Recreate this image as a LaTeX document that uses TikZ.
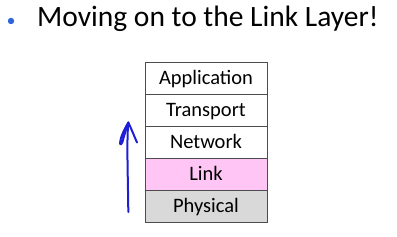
\documentclass[tikz,border=0pt]{standalone}
\usepackage{fontspec}
\setmainfont{Carlito}
\definecolor{penblue}{RGB}{30,30,215}
\definecolor{bulletblue}{RGB}{45,100,220}
\definecolor{linkpink}{RGB}{255,198,245}
\definecolor{physgray}{RGB}{217,217,217}
\begin{document}
\begin{tikzpicture}[x=1pt,y=1pt,
  layer/.style={draw=black!70, line width=0.6pt, minimum width=122pt, minimum height=32pt, inner sep=0pt},
  pen/.style={draw=penblue, line width=2pt, line cap=round, line join=round}]
\useasboundingbox (0,0) rectangle (397,237);
% title
\fill[bulletblue] (11,216) circle (3.2);
\node[anchor=base west, inner sep=0pt, font=\fontsize{29.5}{32}\selectfont] (title) at (37,210) {Moving on to the Link Layer!};
% stack
\node[layer, fill=white] (app) at (206,159) {};
\node[layer, fill=white] (tra) at (206,127) {};
\node[layer, fill=white] (net) at (206,95) {};
\node[layer, fill=linkpink] (lnk) at (206,63) {};
\node[layer, fill=physgray] (phy) at (206,31) {};
\foreach \n/\t in {app/Application,tra/Transport,net/Network,lnk/Link,phy/Physical}
  \node[anchor=base, inner sep=0pt, font=\fontsize{20.5}{22}\selectfont] at ([yshift=-7pt]\n.center) {\t};
% hand-drawn arrow
\coordinate (a0) at (128.3,25);
\coordinate (a1) at (128.3,114.5);
\draw[pen] (a0) .. controls (128,60) and (126.5,95) .. (a1);
\draw[pen] (a1) .. controls (124.5,108) and (120.5,100) .. (120,94)
  .. controls (120,91) and (122.5,93) .. (123.5,99) -- (126.5,109);
\draw[pen] (a1) .. controls (131.5,108) and (134.5,100) .. (137,94.5);
\end{tikzpicture}
\end{document}
